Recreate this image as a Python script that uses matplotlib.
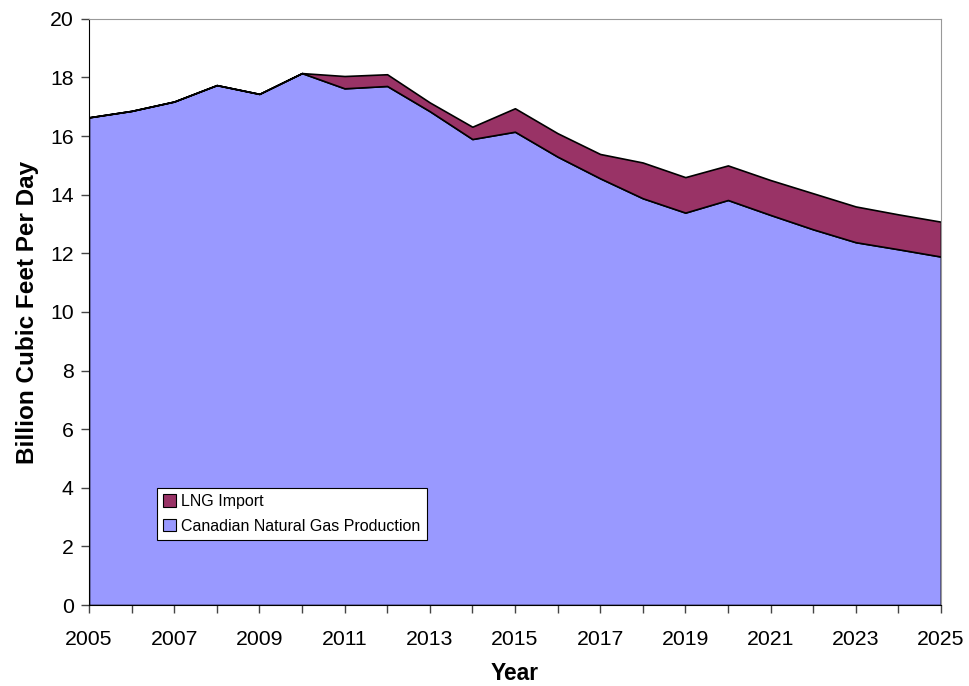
import matplotlib.pyplot as plt
import numpy as np

plt.rcParams['font.family'] = ['Liberation Sans', 'DejaVu Sans']

years = np.arange(2005, 2026)
canadian = [16.64, 16.86, 17.18, 17.74, 17.44, 18.15, 17.63, 17.71, 16.85, 15.90,
            16.15, 15.30, 14.56, 13.88, 13.39, 13.82, 13.31, 12.82, 12.38, 12.14, 11.89]
lng = [0, 0, 0, 0, 0, 0, 0.42, 0.40, 0.30, 0.42,
       0.80, 0.80, 0.83, 1.22, 1.21, 1.18, 1.19, 1.23, 1.22, 1.19, 1.19]

fig = plt.figure(figsize=(9.69, 6.86), dpi=100)
ax = fig.add_axes([0.0918, 0.118, 0.8792, 0.8545])

ax.stackplot(years, canadian, lng, colors=['#9999ff', '#993366'],
             edgecolor='black', linewidth=1.2,
             labels=['Canadian Natural Gas Production', 'LNG Import'])

ax.set_xlim(2005, 2025)
ax.set_ylim(0, 20)
ax.set_xticks(years)
ax.set_xticklabels([str(y) if (y - 2005) % 2 == 0 else '' for y in years])
ax.set_yticks(np.arange(0, 21, 2))
ax.tick_params(axis='both', labelsize=15.3, length=6, width=1, color='#444444')
ax.tick_params(axis='x', pad=12)
ax.tick_params(axis='y', pad=5)

for s in ['top', 'right']:
    ax.spines[s].set_color('#999999')
for s in ['left', 'bottom']:
    ax.spines[s].set_color('black')

ax.set_xlabel('Year', fontsize=16.4, fontweight='bold', labelpad=9)
ax.set_ylabel('Billion Cubic Feet Per Day', fontsize=17.5, fontweight='bold', labelpad=8)

h, l = ax.get_legend_handles_labels()
leg = ax.legend(h[::-1], l[::-1], loc='lower left', bbox_to_anchor=(0.0798, 0.1109),
                fontsize=11.5, frameon=True, fancybox=False, edgecolor='black',
                framealpha=1, handlelength=0.8, handleheight=0.8, handletextpad=0.3,
                borderpad=0.4, labelspacing=0.6, borderaxespad=0)
leg.get_frame().set_linewidth(0.8)
for p in leg.get_patches():
    p.set_linewidth(0.8)

fig.savefig('out.png', dpi=100)
